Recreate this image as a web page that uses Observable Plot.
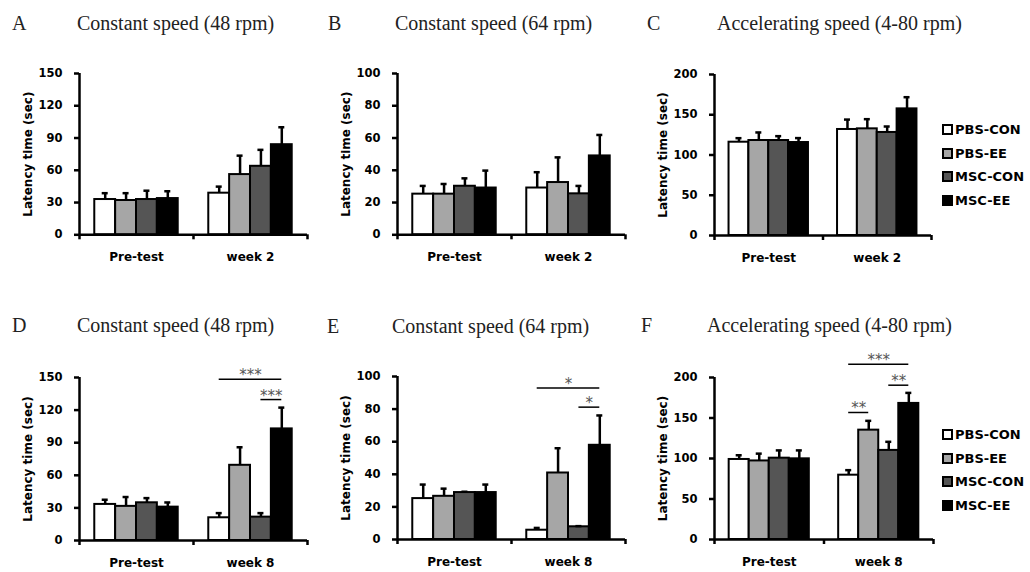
<!DOCTYPE html>
<html><head><meta charset="utf-8">
<script src="https://cdn.jsdelivr.net/npm/d3@7"></script>
<script src="https://cdn.jsdelivr.net/npm/@observablehq/plot@0.6"></script>
<style>
body{margin:0;background:#fff;}
#root{position:relative;width:1030px;height:572px;overflow:hidden;background:#fff;}
.panel{position:absolute;}
.title{position:absolute;font-family:"Liberation Serif",serif;font-size:20px;line-height:1;color:#222;white-space:nowrap;}
.legend{position:absolute;font-family:"DejaVu Sans",sans-serif;font-weight:bold;font-size:13px;color:#000;}
.legend .row{display:flex;align-items:center;height:23.6px;}
.legend .sw{box-sizing:border-box;width:11px;height:11px;border:2px solid #000;margin-right:2px;}
</style></head><body><div id="root"></div>
<script>
// ---- data ----
const groups = ["PBS-CON", "PBS-EE", "MSC-CON", "MSC-EE"];
const groupFills = ["#ffffff", "#a6a6a6", "#555555", "#000000"];
const timesWeek2 = ["Pre-test", "week 2"];
const timesWeek8 = ["Pre-test", "week 8"];
const ticks150 = [0, 30, 60, 90, 120, 150];
const ticks100 = [0, 20, 40, 60, 80, 100];
const ticks200 = [0, 50, 100, 150, 200];
const yLabel = "Latency time (sec)";

// means per [time][group]
const meanA = [[32.8, 31.9, 32.8, 33.7], [38.7, 56.0, 63.7, 83.8]];
const errA  = [[5.9, 6.8, 8.2, 6.8], [6.1, 17.6, 15.3, 16.2]];
const meanB = [[25.2, 25.2, 30.1, 29.0], [29.0, 32.4, 25.4, 48.9]];
const errB  = [[5.1, 6.3, 4.9, 10.8], [9.8, 15.6, 4.9, 13.0]];
const meanC = [[115.9, 118.0, 118.0, 115.5], [131.7, 132.5, 128.0, 157.3]];
const errC  = [[5.0, 10.0, 5.4, 5.5], [12.3, 12.0, 7.4, 14.5]];
const meanD = [[33.2, 31.4, 34.7, 30.7], [20.9, 69.2, 21.5, 102.7]];
const errD  = [[4.3, 8.6, 4.3, 4.3], [4.3, 16.6, 3.7, 19.6]];
const meanE = [[25.1, 26.5, 28.8, 28.8], [5.7, 40.8, 7.8, 57.8]];
const errE  = [[8.6, 4.7, 0.5, 4.9], [1.4, 15.2, 0.4, 18.3]];
const meanF = [[98.8, 97.0, 100.4, 99.6], [79.4, 135.0, 110.0, 168.0]];
const errF  = [[5.2, 9.0, 9.6, 10.4], [6.2, 11.5, 10.6, 13.0]];

// significance brackets (time index, from group, to group, level, stars)
const sigD = [
  {t: 1, from: "PBS-CON", to: "MSC-EE", y: 148.5, label: "***"},
  {t: 1, from: "MSC-CON", to: "MSC-EE", y: 129.7, label: "***"}
];
const sigE = [
  {t: 1, from: "PBS-CON", to: "MSC-EE", y: 93.0, label: "*"},
  {t: 1, from: "MSC-CON", to: "MSC-EE", y: 81.2, label: "*"}
];
const sigF = [
  {t: 1, from: "PBS-CON", to: "MSC-EE", y: 216.5, label: "***"},
  {t: 1, from: "MSC-CON", to: "MSC-EE", y: 190.5, label: "**"},
  {t: 1, from: "PBS-CON", to: "PBS-EE", y: 156.8, label: "**"}
];

// ---- layout (page positions) ----
const panels = [
  {letter: "A", title: "Constant speed (48 rpm)", mean: meanA, err: errA, times: timesWeek2, ticks: ticks150, sig: [],
   ax0: 79, ax1: 307, yTop: 72.7, yZero: 234, letterX: 12, titleX: 77, titleTop: 13},
  {letter: "B", title: "Constant speed (64 rpm)", mean: meanB, err: errB, times: timesWeek2, ticks: ticks100, sig: [],
   ax0: 397, ax1: 625, yTop: 72.7, yZero: 234, letterX: 328, titleX: 395, titleTop: 13},
  {letter: "C", title: "Accelerating speed (4-80 rpm)", mean: meanC, err: errC, times: timesWeek2, ticks: ticks200, sig: [],
   ax0: 714, ax1: 931, yTop: 74, yZero: 235, letterX: 647, titleX: 717, titleTop: 13, legendTop: 118},
  {letter: "D", title: "Constant speed (48 rpm)", mean: meanD, err: errD, times: timesWeek8, ticks: ticks150, sig: sigD,
   ax0: 79, ax1: 307, yTop: 377, yZero: 540, letterX: 12, titleX: 77, titleTop: 315},
  {letter: "E", title: "Constant speed (64 rpm)", mean: meanE, err: errE, times: timesWeek8, ticks: ticks100, sig: sigE,
   ax0: 397, ax1: 625, yTop: 376, yZero: 539, letterX: 327, titleX: 392, titleTop: 316},
  {letter: "F", title: "Accelerating speed (4-80 rpm)", mean: meanF, err: errF, times: timesWeek8, ticks: ticks200, sig: sigF,
   ax0: 714, ax1: 933, yTop: 377, yZero: 539, letterX: 641, titleX: 707, titleTop: 315, legendTop: 423}
];

const barFrac = 0.183;            // bar width as fraction of a time band
const ML = 75, MR = 15, MT = 32, MB = 40;
const root = document.getElementById("root");
const colorScale = Plot.scale({color: {type: "ordinal", domain: groups, range: groupFills}});

function barLeft(t, g) { return t + 0.5 + (groups.indexOf(g) - 2) * barFrac; }
function barCenter(t, g) { return barLeft(t, g) + barFrac / 2; }

for (const p of panels) {
  const rows = [];
  p.times.forEach((time, t) => groups.forEach((g, j) => {
    const m = p.mean[t][j], e = p.err[t][j];
    rows.push({time, g, x1: barLeft(t, g), x2: barLeft(t, g) + barFrac, xc: barCenter(t, g), y0: 0, mean: m, upper: m + e});
  }));
  const sigRows = p.sig.map(s => ({...s, a: barCenter(s.t, s.from), b: barCenter(s.t, s.to)}));
  const W = (p.ax1 - p.ax0) + ML + MR;
  const H = (p.yZero - p.yTop) + MT + MB;
  const ymax = p.ticks[p.ticks.length - 1];

  const chart = Plot.plot({
    width: W, height: H,
    marginLeft: ML, marginRight: MR, marginTop: MT, marginBottom: MB,
    style: {background: "transparent", color: "#000", fontFamily: "DejaVu Sans", overflow: "visible"},
    x: {domain: [0, 2], axis: null},
    y: {domain: [0, ymax], axis: null},
    color: {type: "ordinal", domain: groups, range: groupFills},
    marks: [
      Plot.rect(rows, {x1: "x1", x2: "x2", y1: "y0", y2: "mean", fill: "g", stroke: "#000", strokeWidth: 2}),
      Plot.ruleX(rows, {x: "xc", y1: "mean", y2: "upper", stroke: "#000", strokeWidth: 2.5}),
      Plot.ruleY(rows, {x1: "xc", x2: "xc", y: "upper", insetLeft: -3, insetRight: -3, stroke: "#000", strokeWidth: 2.5}),
      Plot.ruleX([0], {stroke: "#000", strokeWidth: 2.5}),
      Plot.ruleY([0], {stroke: "#000", strokeWidth: 2.5}),
      Plot.axisY({ticks: p.ticks, tickSize: 5, tickPadding: 12, strokeWidth: 2.5, tickFormat: d => String(d),
                  fontSize: 11.5, fontWeight: "bold", label: null}),
      Plot.axisY({ticks: [], tickSize: 0, label: yLabel, labelArrow: "none", labelAnchor: "center", labelOffset: 56,
                  fontSize: 12, fontWeight: "bold"}),
      Plot.axisX({ticks: [0, 1, 2], tickSize: 5, strokeWidth: 2.5, tickFormat: () => "", label: null}),
      Plot.axisX({ticks: [0.5, 1.5], tickSize: 0, tickPadding: 18, tickFormat: d => p.times[Math.floor(d)],
                  fontSize: 12, fontWeight: "bold", label: null}),
      Plot.ruleY(sigRows, {x1: "a", x2: "b", y: "y", stroke: "#000", strokeWidth: 1.5}),
      Plot.text(sigRows, {x: d => (d.a + d.b) / 2, y: "y", text: "label", lineAnchor: "bottom", dy: 1,
                          fontSize: 15, fill: "#555"})
    ]
  });
  chart.classList.add("panel");
  chart.style.left = (p.ax0 - ML) + "px";
  chart.style.top = (p.yTop - MT) + "px";
  root.appendChild(chart);

  const letter = document.createElement("div");
  letter.className = "title";
  letter.textContent = p.letter;
  letter.style.left = p.letterX + "px";
  letter.style.top = p.titleTop + "px";
  root.appendChild(letter);
  const title = document.createElement("div");
  title.className = "title";
  title.textContent = p.title;
  title.style.left = p.titleX + "px";
  title.style.top = p.titleTop + "px";
  root.appendChild(title);

  if (p.legendTop !== undefined) {
    const leg = document.createElement("div");
    leg.className = "legend";
    leg.style.left = "942px";
    leg.style.top = p.legendTop + "px";
    for (const g of groups) {
      const row = document.createElement("div");
      row.className = "row";
      const sw = document.createElement("div");
      sw.className = "sw";
      sw.style.background = colorScale.apply(g);
      const tx = document.createElement("span");
      tx.textContent = g;
      row.appendChild(sw); row.appendChild(tx);
      leg.appendChild(row);
    }
    root.appendChild(leg);
  }
}
</script></body></html>
